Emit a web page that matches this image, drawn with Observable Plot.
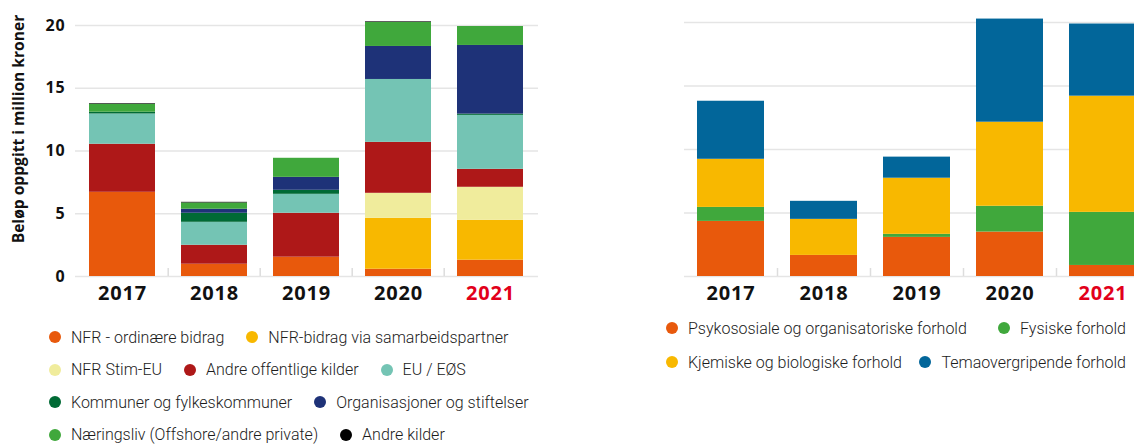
<!DOCTYPE html>
<html>
<head>
<meta charset="utf-8">
<script src="https://cdn.jsdelivr.net/npm/d3@7"></script>
<script src="https://cdn.jsdelivr.net/npm/@observablehq/plot@0.6"></script>
<style>
  html, body { margin: 0; padding: 0; background: #fff; }
  body { width: 1134px; height: 444px; overflow: hidden; position: relative; font-family: Roboto, "Open Sans", sans-serif; }
  #left { position: absolute; left: 0; top: 0; width: 560px; }
  #right { position: absolute; left: 640px; top: 0; width: 509px; }
  #left svg, #right svg { max-width: none !important; }
  .ylab { position: absolute; left: 18px; top: 129px; transform: translate(-50%, -50%) rotate(-90deg);
          font: bold 15.6px "Open Sans", sans-serif; white-space: nowrap; color: #111; }
  .legend { position: absolute; display: flex; flex-wrap: wrap; font: 300 16px Roboto, sans-serif; color: #1c1c1c; }
  .legend .item { display: flex; align-items: center; white-space: nowrap; }
  .legend .dot { width: 12px; height: 12px; border-radius: 50%; margin-right: 10px; flex: none; }
  #legL { left: 49px; top: 321px; width: 510px; }
  #legL .item { height: 32.5px; margin-right: 22px; }
  #legR { left: 666px; top: 311px; width: 460px; justify-content: space-between; }
  #legR .item { height: 34px; }
  svg text { font-family: "Open Sans", sans-serif; letter-spacing: 0.8px; }
</style>
</head>
<body>
<div id="left"></div>
<div id="right"></div>
<div class="ylab">Beløp oppgitt i million kroner</div>
<div class="legend" id="legL"></div>
<div class="legend" id="legR"></div>
<script>
// ---------- data ----------
const years = ["2017", "2018", "2019", "2020", "2021"];
const highlightYear = "2021";
const yTicks = [0, 5, 10, 15, 20];

// Left chart: funding sources (million NOK)
const sourceNames = [
  "NFR - ordinære bidrag",
  "NFR-bidrag via samarbeidspartner",
  "NFR Stim-EU",
  "Andre offentlige kilder",
  "EU / EØS",
  "Kommuner og fylkeskommuner",
  "Organisasjoner og stiftelser",
  "Næringsliv (Offshore/andre private)",
  "Andre kilder"
];
const sourceColors = ["#e8590c", "#f8b800", "#f0ec9c", "#ae1818", "#74c4b4", "#006a35", "#1e3278", "#40a83c", "#000000"];
const nfrOrdinaer     = [6.71, 0.98, 1.54, 0.58, 1.30];
const nfrSamarbeid    = [0.00, 0.00, 0.00, 4.06, 3.18];
const nfrStimEU       = [0.00, 0.00, 0.00, 1.99, 2.63];
const andreOffentlige = [3.83, 1.51, 3.50, 4.06, 1.43];
const euEos           = [2.41, 1.83, 1.51, 5.01, 4.30];
const kommuner        = [0.14, 0.72, 0.32, 0.00, 0.10];
const organisasjoner  = [0.00, 0.32, 1.03, 2.63, 5.47];
const naeringsliv     = [0.63, 0.50, 1.52, 1.91, 1.51];
const andreKilder     = [0.05, 0.05, 0.00, 0.05, 0.00];
const sourceSeries = [nfrOrdinaer, nfrSamarbeid, nfrStimEU, andreOffentlige, euEos, kommuner, organisasjoner, naeringsliv, andreKilder];

// Right chart: themes (million NOK)
const themeNames = [
  "Psykososiale og organisatoriske forhold",
  "Fysiske forhold",
  "Kjemiske og biologiske forhold",
  "Temaovergripende forhold"
];
const themeColors = ["#e8590c", "#40a83c", "#f8b800", "#02669a"];
const psykososiale     = [4.34, 1.66, 3.08, 3.50, 0.87];
const fysiske          = [1.10, 0.00, 0.24, 2.03, 4.18];
const kjemiske         = [3.79, 2.84, 4.42, 6.62, 9.15];
const temaovergripende = [4.57, 1.42, 1.66, 8.12, 5.68];
const themeSeries = [psykososiale, fysiske, kjemiske, temaovergripende];

// ---------- build tables ----------
function toRows(names, series) {
  const rows = [];
  names.forEach((name, i) => {
    years.forEach((year, j) => rows.push({ year, series: name, value: series[i][j] }));
  });
  return rows;
}
const sourceRows = toRows(sourceNames, sourceSeries);
const themeRows = toRows(themeNames, themeSeries);

function chart({ rows, names, colors, width, marginLeft, marginRight, marginTop, showY }) {
  const height = 306, marginBottom = 30;
  const step = (width - marginLeft - marginRight) / years.length;
  const plotH = height - marginTop - marginBottom;
  const marks = [
    Plot.ruleY(yTicks, { y: d => d, stroke: "#e5e5e5", strokeWidth: 1.5 }),
    Plot.ruleX(years.slice(1), { x: d => d, dx: -step / 2, stroke: "#dddddd", strokeWidth: 1.5, insetTop: plotH - 8 }),
    Plot.barY(rows, { x: "year", y: "value", fill: "series" }),
    Plot.axisX(years.filter(y => y !== highlightYear), { tickSize: 0, tickPadding: 9, fontSize: 20, fontWeight: "bold", fill: "#111" }),
    Plot.axisX([highlightYear], { tickSize: 0, tickPadding: 9, fontSize: 20, fontWeight: "bold", fill: "#e2001a" })
  ];
  if (showY) marks.push(Plot.axisY(yTicks, { tickSize: 0, tickPadding: 10, fontSize: 16, fontWeight: "bold", fill: "#111" }));
  return Plot.plot({
    width, height, marginLeft, marginRight, marginTop, marginBottom,
    style: { background: "transparent", overflow: "visible", maxWidth: "none" },
    x: { domain: years, paddingInner: 0.28, paddingOuter: 0.14, label: null },
    y: { domain: [0, 20], label: null, axis: showY ? undefined : null },
    color: { domain: names, range: colors },
    marks
  });
}

document.getElementById("left").append(chart({
  rows: sourceRows, names: sourceNames, colors: sourceColors,
  width: 560, marginLeft: 75, marginRight: 22, marginTop: 25, showY: true
}));
document.getElementById("right").append(chart({
  rows: themeRows, names: themeNames, colors: themeColors,
  width: 509, marginLeft: 44, marginRight: 0, marginTop: 22, showY: false
}));

function legend(el, names, colors) {
  names.forEach((n, i) => {
    const item = document.createElement("div");
    item.className = "item";
    const dot = document.createElement("span");
    dot.className = "dot";
    dot.style.background = colors[i];
    const t = document.createElement("span");
    t.textContent = n;
    item.append(dot, t);
    el.append(item);
  });
}
legend(document.getElementById("legL"), sourceNames, sourceColors);
legend(document.getElementById("legR"), themeNames, themeColors);
</script>
</body>
</html>
